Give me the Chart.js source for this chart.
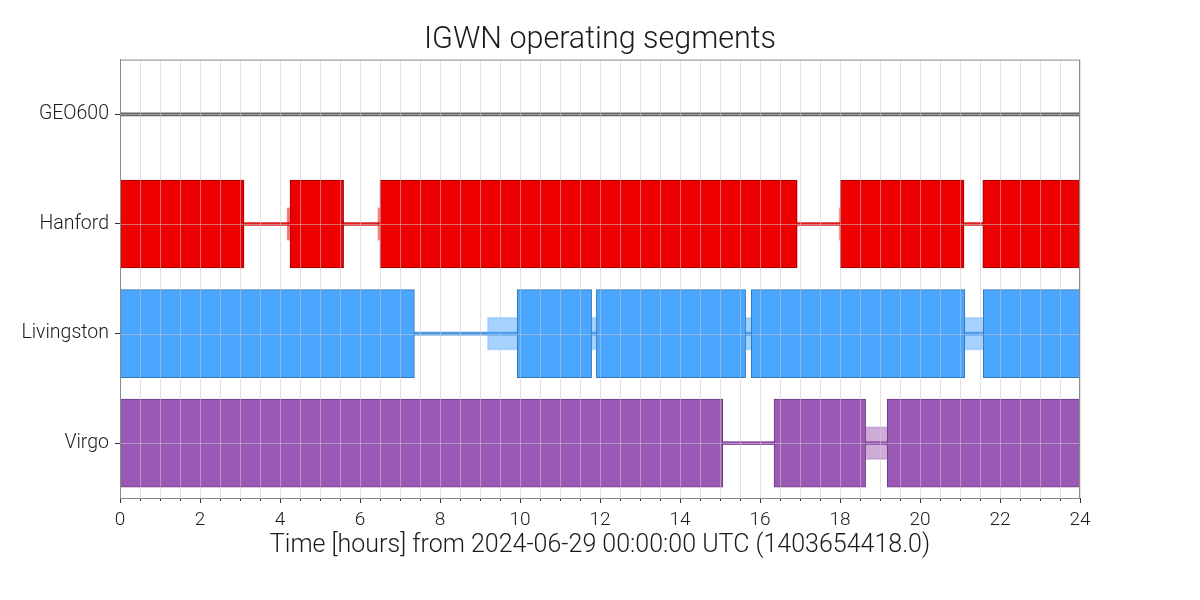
<!DOCTYPE html>
<html>
<head>
<meta charset="utf-8">
<title>IGWN operating segments</title>
<script src="https://cdn.jsdelivr.net/npm/chart.js@4/dist/chart.umd.min.js"></script>
<style>
  html, body { margin: 0; padding: 0; background: #fff; }
  #wrap { width: 1200px; height: 600px; }
</style>
</head>
<body>
<div id="wrap"><canvas id="segChart" width="1200" height="600"></canvas></div>
<script>
// detectors, bottom to top (index = y value)
const detectors = ['Virgo', 'Livingston', 'Hanford', 'GEO600'];

// segments in hours from 2024-06-29 00:00:00 UTC
const geoKnown = [[0, 24]];

const hanfordKnown = [[0, 24]];
const hanfordPartial = [[4.17, 4.25], [6.44, 6.5], [17.97, 18.01]];
const hanfordActive = [[0, 3.1], [4.25, 5.59], [6.5, 16.93], [18.01, 21.1], [21.57, 24]];

const livingstonKnown = [[0, 24]];
const livingstonPartial = [[9.18, 9.93], [11.79, 11.91], [15.64, 15.78], [21.12, 21.58]];
const livingstonActive = [[0, 7.36], [9.93, 11.79], [11.91, 15.64], [15.78, 21.12], [21.58, 24]];

const virgoKnown = [[0, 24]];
const virgoPartial = [[18.64, 19.18]];
const virgoActive = [[0, 15.07], [16.35, 18.64], [19.18, 24]];

const xTicksEvery = 0.5;
const xLabelEvery = 2;

function toBars(segs, name) {
    const row = detectors.indexOf(name);
    return segs.map(s => ({ x: [s[0], s[1]], y: row }));
}

function active(segs, name, fill, edge) {
    return {
        data: toBars(segs, name), backgroundColor: fill, borderColor: edge,
        borderWidth: 1, borderSkipped: false, barThickness: 88, grouped: false
    };
}

function partial(segs, name, fill, edge) {
    return {
        data: toBars(segs, name), backgroundColor: fill, borderColor: edge,
        borderWidth: 1, borderSkipped: false, barThickness: 33, grouped: false
    };
}

function known(segs, name, colour) {
    return {
        data: toBars(segs, name), backgroundColor: colour,
        borderWidth: 0, barThickness: 3, grouped: false
    };
}

// first dataset is drawn on top
const datasets = [
    active(hanfordActive, 'Hanford', '#ee0000', '#9a0000'),
    active(livingstonActive, 'Livingston', '#4ba6ff', '#2f74b8'),
    active(virgoActive, 'Virgo', '#9b59b6', '#6a3a80'),
    partial(hanfordPartial, 'Hanford', 'rgba(238,0,0,0.5)', 'rgba(238,0,0,0.3)'),
    partial(livingstonPartial, 'Livingston', 'rgba(75,166,255,0.5)', 'rgba(75,166,255,0.3)'),
    partial(virgoPartial, 'Virgo', 'rgba(155,89,182,0.5)', 'rgba(155,89,182,0.3)'),
    known(hanfordKnown, 'Hanford', '#e21d1d'),
    known(livingstonKnown, 'Livingston', '#4a97e6'),
    known(virgoKnown, 'Virgo', '#9351ad'),
    known(geoKnown, 'GEO600', '#666666')
];

const gridColour = 'rgba(200,200,200,0.55)';

// grid lines go over the segments, plus longer ticks on the labelled hours
const overlayGrid = {
    id: 'overlayGrid',
    afterDatasetsDraw(chart) {
        const { ctx, chartArea: a, scales: { x, y } } = chart;
        const px = (v) => Math.round(x.getPixelForValue(v)) + 0.5;
        const py = (v) => Math.round(y.getPixelForValue(v)) + 0.5;
        ctx.save();
        ctx.lineWidth = 1;
        ctx.strokeStyle = gridColour;
        ctx.beginPath();
        x.ticks.forEach(t => { ctx.moveTo(px(t.value), a.top); ctx.lineTo(px(t.value), a.bottom); });
        y.ticks.forEach(t => { ctx.moveTo(a.left, py(t.value)); ctx.lineTo(a.right, py(t.value)); });
        ctx.stroke();

        ctx.strokeStyle = '#333';
        ctx.beginPath();
        x.ticks.forEach(t => {
            const len = t.value % xLabelEvery === 0 ? 5 : 3;
            ctx.moveTo(px(t.value), a.bottom);
            ctx.lineTo(px(t.value), a.bottom + len);
        });
        ctx.stroke();
        ctx.restore();
    }
};

// box round the plot area
const frame = {
    id: 'frame',
    afterDraw(chart) {
        const { ctx, chartArea: a } = chart;
        ctx.save();
        ctx.strokeStyle = '#8a8a8a';
        ctx.lineWidth = 1;
        ctx.strokeRect(a.left + 0.5, a.top + 0.5, a.right - a.left - 1, a.bottom - a.top);
        ctx.restore();
    }
};

new Chart(document.getElementById('segChart'), {
    type: 'bar',
    data: { datasets },
    plugins: [overlayGrid, frame],
    options: {
        indexAxis: 'y',
        responsive: false,
        animation: false,
        layout: { padding: { left: 0, right: 120, top: 0, bottom: 0 } },
        plugins: {
            legend: { display: false },
            tooltip: { enabled: false },
            title: {
                display: true,
                fullSize: false, // centre over the plot area
                text: 'IGWN operating segments',
                color: '#1a1a1a',
                font: { family: 'Roboto', size: 30.5, weight: 300 },
                padding: { top: 22, bottom: 1 }
            }
        },
        scales: {
            x: {
                type: 'linear',
                min: 0,
                max: 24,
                afterFit: (s) => { s.height = 102; },
                ticks: {
                    stepSize: xTicksEvery,
                    autoSkip: false,
                    maxRotation: 0,
                    padding: 11,
                    color: '#1a1a1a',
                    font: { family: 'Roboto', size: 19, weight: 300 },
                    callback: (v) => (v % xLabelEvery === 0 ? String(v) : '')
                },
                grid: { drawOnChartArea: false, drawTicks: false },
                border: { color: '#8a8a8a' },
                title: {
                    display: true,
                    text: 'Time [hours] from 2024-06-29 00:00:00 UTC (1403654418.0)',
                    color: '#1a1a1a',
                    font: { family: 'Roboto', size: 25, weight: 300 },
                    padding: { top: 4, bottom: 39 }
                }
            },
            y: {
                type: 'linear',
                min: -0.5,
                max: 3.5,
                offset: false,
                afterFit: (s) => { s.width = 120; },
                afterBuildTicks: (s) => { s.ticks = detectors.map((d, i) => ({ value: i })); },
                ticks: {
                    padding: 6,
                    color: '#1a1a1a',
                    font: { family: 'Roboto', size: 19.5, weight: 300 },
                    callback: (v) => detectors[v] ?? ''
                },
                grid: { drawOnChartArea: false, tickColor: '#333', tickLength: 5, offset: false },
                border: { color: '#8a8a8a' }
            }
        }
    }
});
</script>
</body>
</html>
